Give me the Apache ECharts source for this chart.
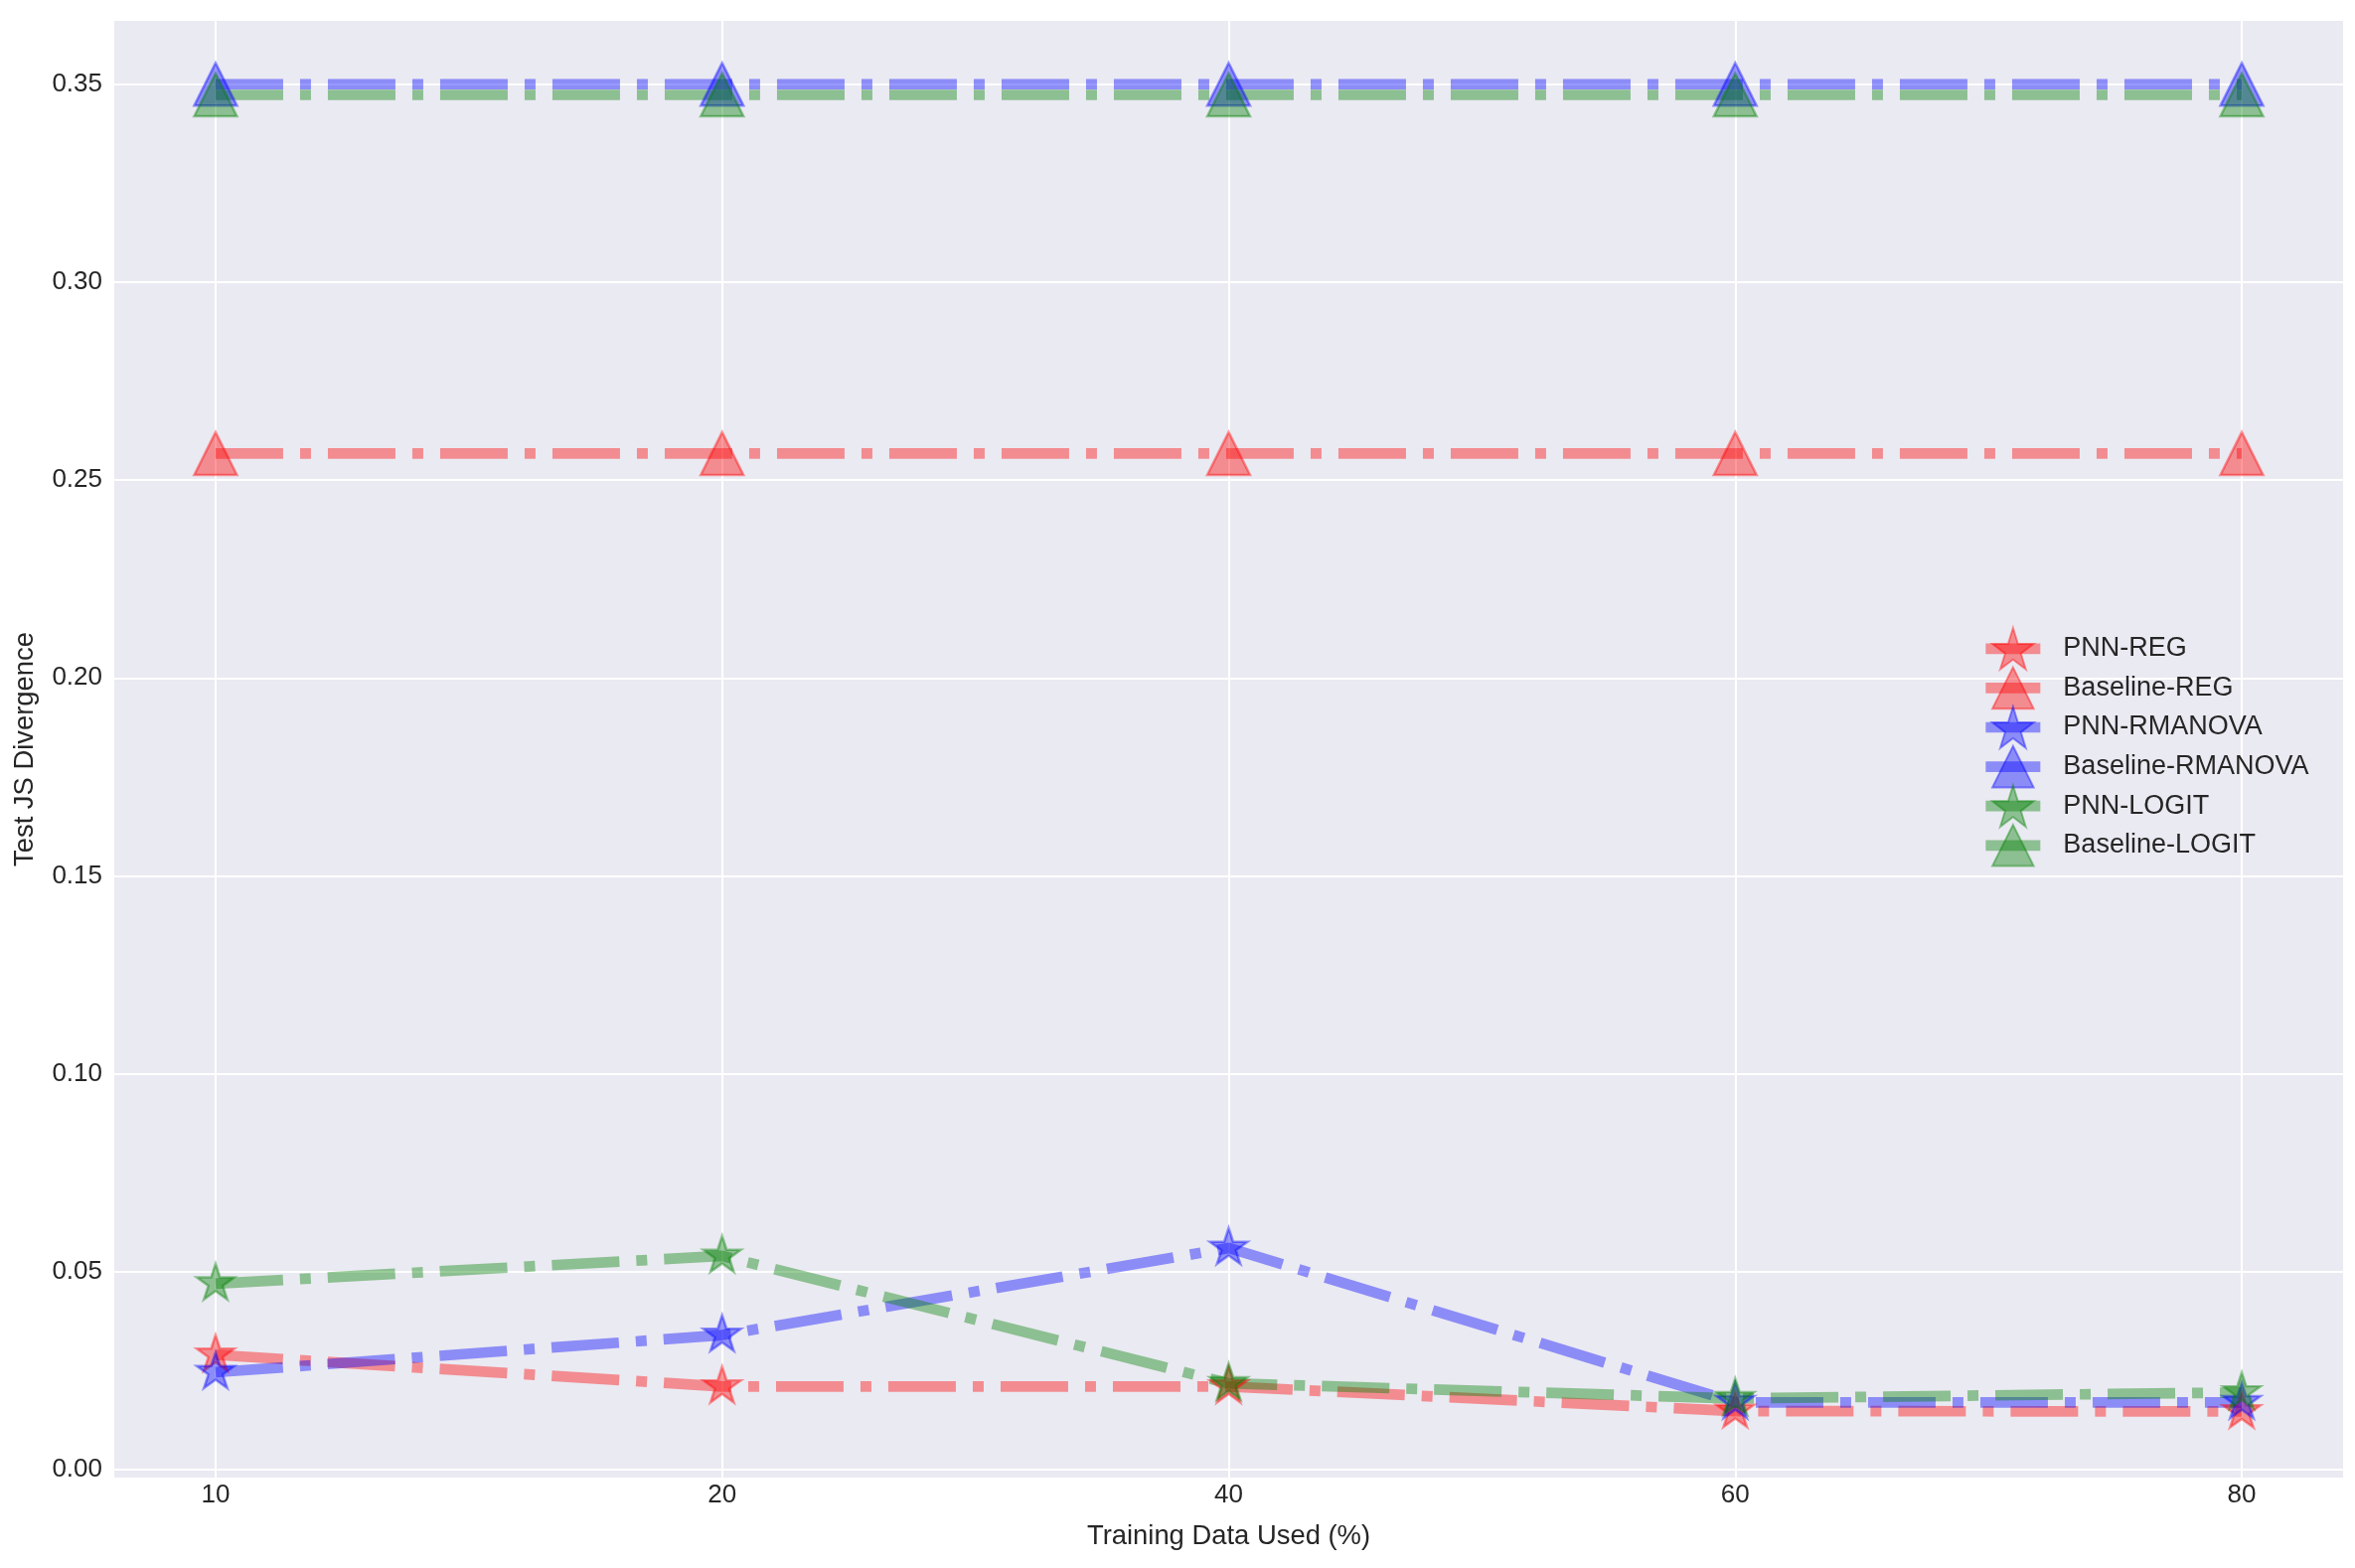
<!DOCTYPE html>
<html lang="en">
<head>
  <meta charset="UTF-8">
  <script src="https://cdn.jsdelivr.net/npm/echarts@6/dist/echarts.min.js"></script>
  <title>Test JS Divergence</title>
  <style>
    html, body { margin: 0; background: #fff; }
    #chart { width: 2370px; height: 1578px; }
  </style>
</head>
<body>
  <div id="chart"></div>
  <script>
    // x categories (training data used, %)
    var categories = ['10', '20', '40', '60', '80'];

    // series values, one per category
    var pnnReg = [0.029, 0.021, 0.021, 0.0148, 0.0147];
    var baselineReg = [0.2567, 0.2567, 0.2567, 0.2567, 0.2567];
    var pnnRmanova = [0.0246, 0.034, 0.056, 0.017, 0.017];
    var baselineRmanova = [0.35, 0.35, 0.35, 0.35, 0.35];
    var pnnLogit = [0.047, 0.054, 0.0218, 0.018, 0.0195];
    var baselineLogit = [0.3473, 0.3473, 0.3473, 0.3473, 0.3473];

    var yTickStep = 0.05;

    // matplotlib style 5 point star (inner radius 0.381966)
    function starPath() {
      var pts = [];
      for (var i = 0; i < 10; i++) {
        var r = i % 2 === 0 ? 1 : 0.381966;
        var a = Math.PI / 2 + i * Math.PI / 5;
        pts.push((r * Math.cos(a)).toFixed(4) + ' ' + (-r * Math.sin(a)).toFixed(4));
      }
      return 'path://M' + pts.join(' L') + ' Z';
    }
    var STAR = starPath();

    function toPoints(values) {
      return values.map(function (v, i) { return [i, v]; });
    }

    function makeSeries(name, values, rgb, marker) {
      var isStar = marker === 'star';
      return {
        name: name,
        type: 'line',
        data: toPoints(values),
        symbol: isStar ? STAR : 'triangle',
        symbolSize: isStar ? [38, 36] : [43, 43],
        symbolOffset: isStar ? [0, -2] : [0, 0],
        showAllSymbol: true,
        lineStyle: {
          color: 'rgba(' + rgb + ',0.4)',
          width: 10.7,
          type: [68, 17, 11, 17],
          cap: 'butt'
        },
        itemStyle: {
          color: 'rgba(' + rgb + ',0.4)',
          borderColor: 'rgba(' + rgb + ',0.4)',
          borderWidth: 2.5
        },
        emphasis: { disabled: true }
      };
    }

    var chart = echarts.init(document.getElementById('chart'), null, { renderer: 'canvas' });

    var option = {
      animation: false,
      backgroundColor: '#ffffff',
      textStyle: { fontFamily: 'Liberation Sans, Arial, sans-serif' },
      grid: {
        left: 115,
        right: 12,
        top: 21,
        bottom: 91,
        show: true,
        backgroundColor: '#eaeaf2',
        borderWidth: 0
      },
      legend: {
        left: 1988,
        top: 626,
        orient: 'vertical',
        itemWidth: 55,
        itemHeight: 52,
        itemGap: -4,
        lineStyle: { width: 10.7, type: 'solid' },
        textStyle: { fontSize: 27, color: '#262626', padding: [0, 0, 0, 18] },
        data: ['PNN-REG', 'Baseline-REG', 'PNN-RMANOVA', 'Baseline-RMANOVA', 'PNN-LOGIT', 'Baseline-LOGIT']
      },
      xAxis: {
        type: 'value',
        min: -0.2,
        max: 4.2,
        minInterval: 1,
        maxInterval: 1,
        name: 'Training Data Used (%)',
        nameLocation: 'middle',
        nameGap: 46,
        nameTextStyle: { fontSize: 27.4, color: '#262626' },
        axisLine: { show: false },
        axisTick: { show: false },
        axisLabel: {
          fontSize: 26,
          color: '#262626',
          margin: 5,
          formatter: function (v) {
            return Math.abs(v - Math.round(v)) < 1e-6 ? (categories[Math.round(v)] || '') : '';
          }
        },
        splitLine: {
          show: true,
          showMinLine: false,
          showMaxLine: false,
          lineStyle: { color: '#ffffff', width: 2 }
        }
      },
      yAxis: {
        type: 'value',
        min: -0.002,
        max: 0.366,
        minInterval: yTickStep,
        maxInterval: yTickStep,
        name: 'Test JS Divergence',
        nameLocation: 'middle',
        nameGap: 76,
        nameTextStyle: { fontSize: 27.4, color: '#262626' },
        axisLine: { show: false },
        axisTick: { show: false },
        axisLabel: {
          fontSize: 26,
          color: '#262626',
          margin: 12,
          formatter: function (v) {
            var k = v / yTickStep;
            return Math.abs(k - Math.round(k)) < 1e-6 ? Math.abs(v).toFixed(2) : '';
          }
        },
        splitLine: {
          show: true,
          showMinLine: false,
          showMaxLine: false,
          lineStyle: { color: '#ffffff', width: 2 }
        }
      },
      series: [
        makeSeries('PNN-REG', pnnReg, '255,0,0', 'star'),
        makeSeries('Baseline-REG', baselineReg, '255,0,0', 'triangle'),
        makeSeries('PNN-RMANOVA', pnnRmanova, '0,0,255', 'star'),
        makeSeries('Baseline-RMANOVA', baselineRmanova, '0,0,255', 'triangle'),
        makeSeries('PNN-LOGIT', pnnLogit, '0,128,0', 'star'),
        makeSeries('Baseline-LOGIT', baselineLogit, '0,128,0', 'triangle')
      ]
    };

    chart.setOption(option);
  </script>
</body>
</html>
